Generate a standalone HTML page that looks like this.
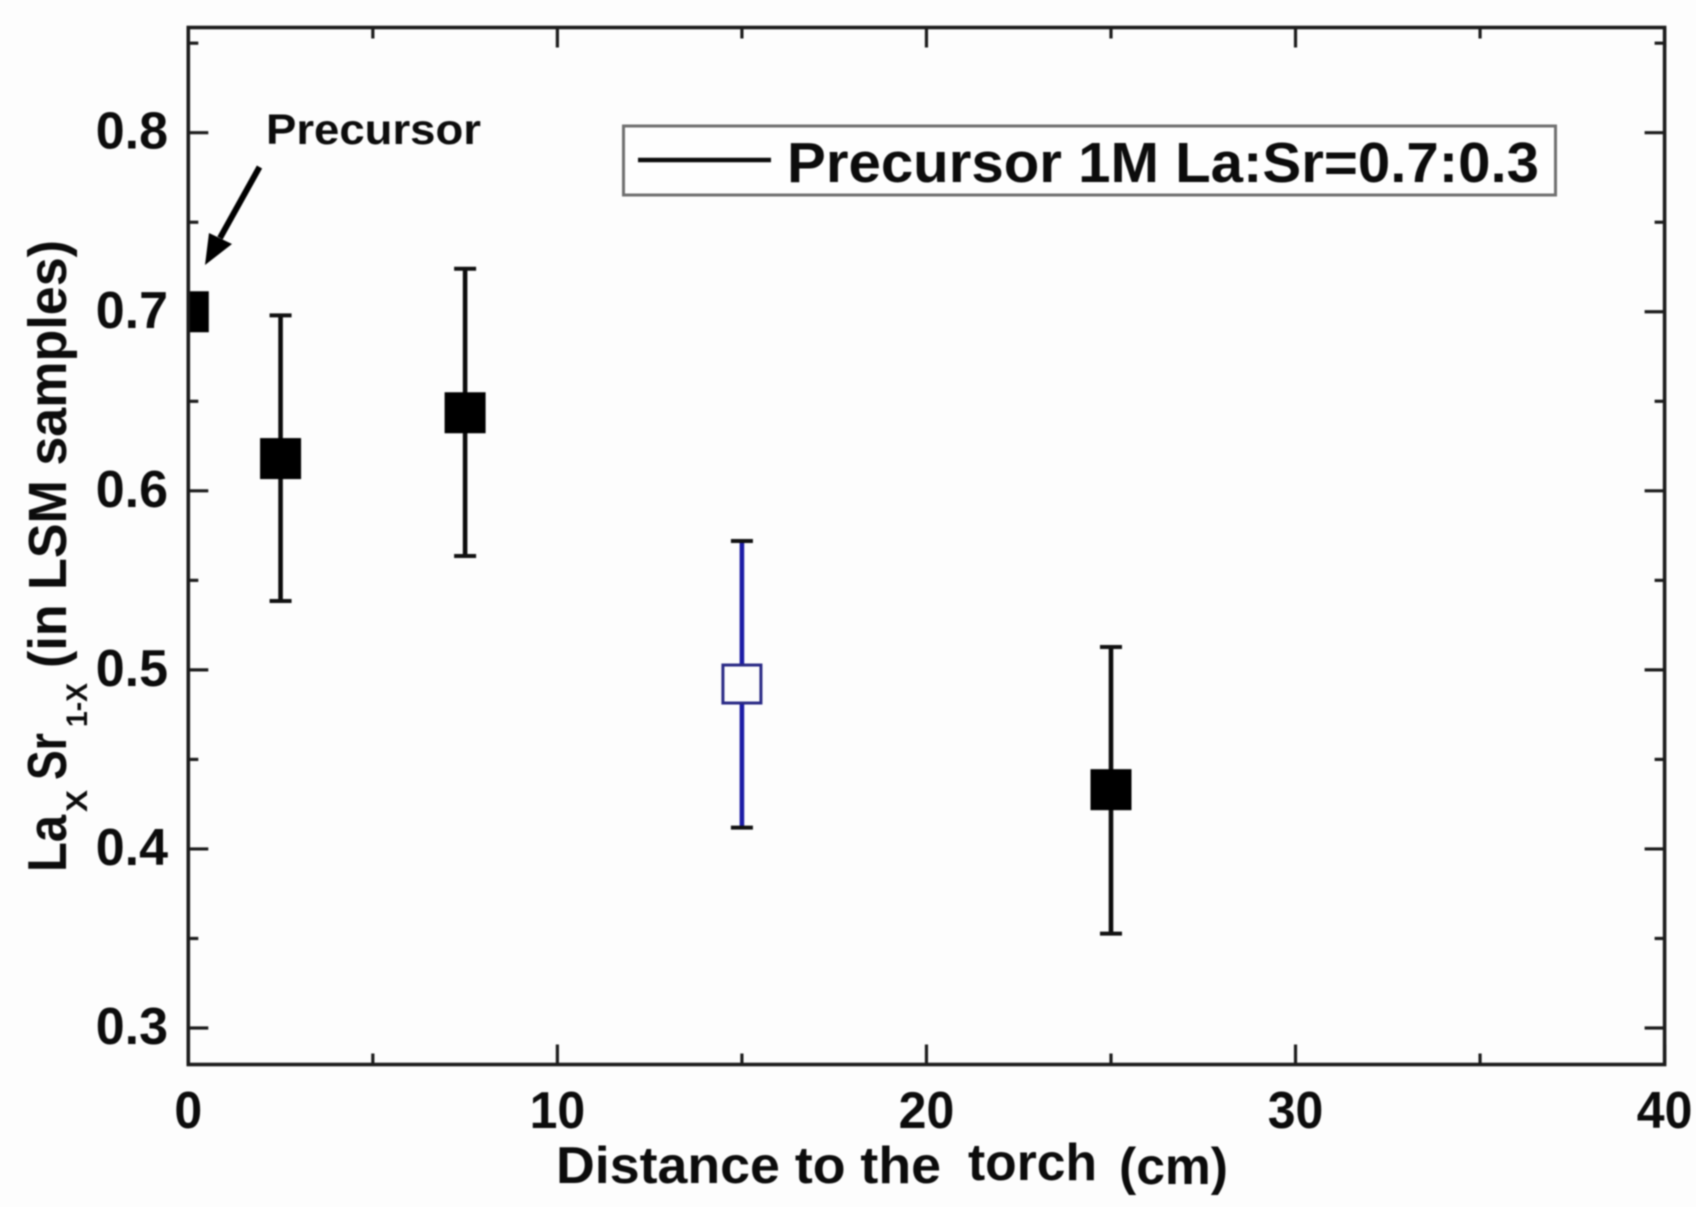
<!DOCTYPE html>
<html lang="en">
<head>
<meta charset="utf-8">
<title>LaxSr1-x vs distance to the torch</title>
<style>
  html, body { margin: 0; padding: 0; background: #fdfdfd; }
  body { width: 1696px; height: 1207px; overflow: hidden; }
  svg { display: block; filter: blur(0.85px); }
  text { font-family: "Liberation Sans", Arial, sans-serif; font-weight: bold; fill: #0c0c0c; }
</style>
</head>
<body>
<svg id="chart" xmlns="http://www.w3.org/2000/svg" width="1696" height="1207" viewBox="0 0 1696 1207">
  <defs>
    <clipPath id="plot-clip"><rect x="188.3" y="25" width="1476.3" height="1039"></rect></clipPath>
  </defs>
  <rect x="0" y="0" width="1696" height="1207" fill="#fdfdfd"></rect>
  <g id="ticks"></g>
  <g id="tick-labels" font-size="52"></g>
  <g id="marks" clip-path="url(#plot-clip)"></g>
  <rect x="188.3" y="27.5" width="1476.3" height="1037" fill="none" stroke="#1c1c1c" stroke-width="3.6"></rect>

  <g font-size="52">
    <text x="556" y="1183" textLength="385" lengthAdjust="spacingAndGlyphs">Distance to the</text>
    <text x="968" y="1180" textLength="129" lengthAdjust="spacingAndGlyphs">torch</text>
    <text x="1119" y="1184" textLength="109" lengthAdjust="spacingAndGlyphs">(cm)</text>
  </g>

  <g>
    <text transform="translate(66 872) rotate(-90)" font-size="55" textLength="57" lengthAdjust="spacingAndGlyphs">La</text>
    <text transform="translate(87 812) rotate(-90)" font-size="30" textLength="22" lengthAdjust="spacingAndGlyphs">X</text>
    <text transform="translate(66 780) rotate(-90)" font-size="55" textLength="47" lengthAdjust="spacingAndGlyphs">Sr</text>
    <text transform="translate(87 727) rotate(-90)" font-size="30" textLength="44" lengthAdjust="spacingAndGlyphs">1-X</text>
    <text transform="translate(66 668) rotate(-90)" font-size="54" textLength="428" lengthAdjust="spacingAndGlyphs">(in LSM samples)</text>
  </g>

  <g>
    <rect x="623.5" y="126" width="932" height="69" fill="#fefefe" stroke="#707070" stroke-width="3"></rect>
    <line x1="638" y1="160" x2="771" y2="160" stroke="#0c0c0c" stroke-width="4.6"></line>
    <text x="787" y="182" font-size="57" textLength="752" lengthAdjust="spacingAndGlyphs">Precursor 1M La:Sr=0.7:0.3</text>
  </g>

  <g>
    <text x="266" y="144" font-size="43" textLength="215" lengthAdjust="spacingAndGlyphs">Precursor</text>
    <line x1="259.5" y1="167" x2="220" y2="238" stroke="#000" stroke-width="6"></line>
    <polygon points="205,265 209,233 232,244" fill="#000"></polygon>
  </g>
</svg>
<script>
// Chart data
const solidDistance = [0, 2.5, 7.5, 25];
const solidRatio = [0.7, 0.618, 0.6436, 0.4331];
const solidErrTop = [null, 0.698, 0.724, 0.5128];
const solidErrBottom = [null, 0.5385, 0.5636, 0.3527];

const hollowDistance = [15];
const hollowRatio = [0.4921];
const hollowErrTop = [0.572];
const hollowErrBottom = [0.4119];

const xMajorTicks = [0, 10, 20, 30, 40];
const xMinorTicks = [5, 15, 25, 35];
const yMajorTicks = [0.3, 0.4, 0.5, 0.6, 0.7, 0.8];
const yMinorTicks = [0.35, 0.45, 0.55, 0.65, 0.75, 0.85];

const plotLeft = 188.3, plotRight = 1664.6, plotTop = 27.5, plotBottom = 1064.5;
function xScale(v) { return plotLeft + (v - 0) / (40 - 0) * (plotRight - plotLeft); }
function yScale(v) { return 132.7 + (0.8 - v) * 1790.6; }

const NS = 'http://www.w3.org/2000/svg';
const ticksG = document.getElementById('ticks');
const labelsG = document.getElementById('tick-labels');
const marksG = document.getElementById('marks');

function svgEl(tag, attrs, parent) {
  const el = document.createElementNS(NS, tag);
  for (const k in attrs) el.setAttribute(k, attrs[k]);
  parent.appendChild(el);
  return el;
}

function drawXTicks(values, len, kind) {
  values.forEach(function (v) {
    const x = xScale(v);
    const bottom = svgEl('line', { x1: x, x2: x, y1: plotBottom, y2: plotBottom - len, stroke: '#1c1c1c', 'stroke-width': 3.2 }, ticksG);
    
    
    const top = svgEl('line', { x1: x, x2: x, y1: plotTop, y2: plotTop + len, stroke: '#1c1c1c', 'stroke-width': 3.2 }, ticksG);
    
    
  });
}

function drawYTicks(values, len, kind) {
  values.forEach(function (v) {
    const y = yScale(v);
    const left = svgEl('line', { x1: plotLeft, x2: plotLeft + len, y1: y, y2: y, stroke: '#1c1c1c', 'stroke-width': 3.2 }, ticksG);
    
    
    const right = svgEl('line', { x1: plotRight, x2: plotRight - len, y1: y, y2: y, stroke: '#1c1c1c', 'stroke-width': 3.2 }, ticksG);
    
    
  });
}

drawXTicks(xMajorTicks, 20, 'major');
drawXTicks(xMinorTicks, 11, 'minor');
drawYTicks(yMajorTicks, 20, 'major');
drawYTicks(yMinorTicks, 10, 'minor');

xMajorTicks.forEach(function (v) {
  const s = String(v);
  const t = svgEl('text', { x: xScale(v) - 27.8 * s.length / 2, y: 1128, textLength: 27.8 * s.length, lengthAdjust: 'spacingAndGlyphs' }, labelsG);
  t.textContent = s;
  
  
});
yMajorTicks.forEach(function (v) {
  const t = svgEl('text', { x: 168, y: yScale(v) + 16, 'text-anchor': 'end' }, labelsG);
  t.textContent = v.toFixed(1);
  
  
});

function drawPoint(xv, yv, top, bottom, barColor, fill, edge, edgeWidth, prefix) {
  const cx = xScale(xv), cy = yScale(yv);
  if (top !== null && bottom !== null) {
    const bar = svgEl('line', { x1: cx, x2: cx, y1: yScale(top), y2: yScale(bottom), stroke: barColor, 'stroke-width': 4.6 }, marksG);
    
    
    const capTop = svgEl('line', { x1: cx - 11, x2: cx + 11, y1: yScale(top), y2: yScale(top), stroke: '#111', 'stroke-width': 4 }, marksG);
    
    
    const capBottom = svgEl('line', { x1: cx - 11, x2: cx + 11, y1: yScale(bottom), y2: yScale(bottom), stroke: '#111', 'stroke-width': 4 }, marksG);
    
    
  }
  const inset = edgeWidth / 2;
  const marker = svgEl('rect', { x: cx - 20.5 + inset, y: cy - 20.5 + inset, width: 41 - edgeWidth, height: 41 - edgeWidth, fill: fill, stroke: edge, 'stroke-width': edgeWidth }, marksG);
  
  
}

solidDistance.forEach(function (d, i) {
  drawPoint(d, solidRatio[i], solidErrTop[i], solidErrBottom[i], '#0c0c0c', '#000', '#000', 0, 'sample-solid');
});
hollowDistance.forEach(function (d, i) {
  drawPoint(d, hollowRatio[i], hollowErrTop[i], hollowErrBottom[i], '#1c1ca6', '#fdfdfd', '#2a2a86', 3, 'sample-hollow');
});
</script>
</body>
</html>
